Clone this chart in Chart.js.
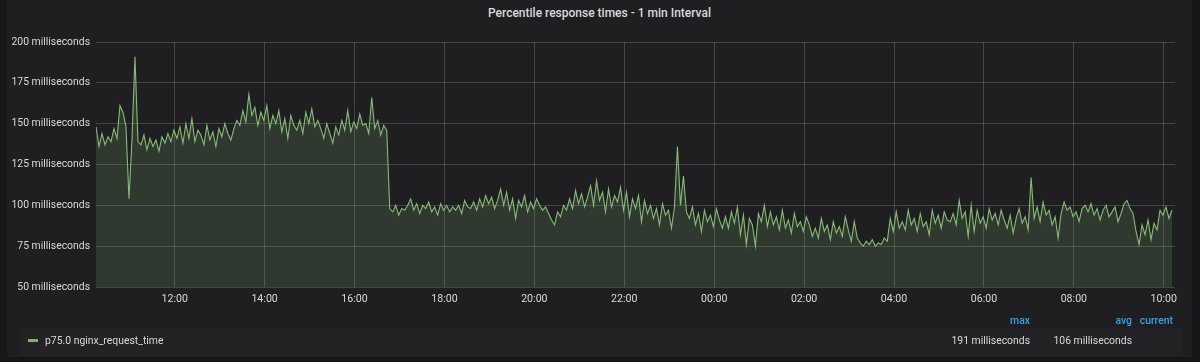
<!DOCTYPE html>
<html>
<head>
<meta charset="utf-8">
<script src="https://cdn.jsdelivr.net/npm/chart.js@4"></script>
<style>
  html, body { margin:0; padding:0; background:#161719; width:1200px; height:362px; overflow:hidden; font-family:Roboto, "Noto Sans", sans-serif; }
  #panel { position:absolute; left:7px; top:0; width:1185px; height:357px; background:#1f1f22; }
  #title { position:absolute; left:7px; width:1185px; top:6px; text-align:center; color:#d8d9da; font-size:12px; font-weight:500; }
  #c { position:absolute; left:0; top:0; }
  #legendbox { position:absolute; left:20px; top:328px; width:1162px; height:28px; background:#232326; }
  .lg { position:absolute; font-size:10.4px; color:#d8d9da; white-space:nowrap; }
  .hd { position:absolute; font-size:10.4px; color:#33a2e5; font-weight:500; white-space:nowrap; }
  #swatch { position:absolute; left:28px; top:339px; width:10px; height:3px; background:#7eb26d; }
</style>
</head>
<body>
<div id="panel"></div>
<div id="title">Percentile response times - 1 min Interval</div>
<div id="legendbox"></div>
<canvas id="c" width="1200" height="362"></canvas>
<div id="swatch"></div>
<div class="lg" id="seriesName" style="left:45px;top:334px;">p75.0 nginx_request_time</div>
<div class="hd" style="right:170px;top:314px;">max</div>
<div class="hd" style="right:68px;top:314px;">avg</div>
<div class="hd" style="right:27px;top:314px;">current</div>
<div class="lg" id="maxVal" style="right:170px;top:334px;"></div>
<div class="lg" id="avgVal" style="right:68px;top:334px;"></div>
<script>
// ---- data ----
const seriesName = "p75.0 nginx_request_time";
const startMinute = 615;      // 10:15 on day one, minutes since midnight
const stepMinutes = 4;        // sample spacing
const xMin = 615, xMax = 2055; // 10:15 -> 10:15 next day
const xTickValues = [720, 840, 960, 1080, 1200, 1320, 1440, 1560, 1680, 1800, 1920, 2040];
const yTickValues = [50, 75, 100, 125, 150, 175, 200];
const legendMax = "191 milliseconds";
const legendAvg = "106 milliseconds";
const p75 = [
148,136,144,137,142,139,147,141,161,157,148,104,140,191,139,
137,143,134,141,136,140,133,142,138,144,139,146,141,148,138,
150,141,153,139,146,143,137,149,140,145,136,147,142,150,144,
140,147,152,149,158,151,168,155,160,149,157,152,161,147,155,
150,158,145,153,141,155,149,146,152,144,157,150,159,148,152,
147,141,150,144,138,148,143,152,146,158,145,151,147,156,149,
150,144,166,147,152,143,149,146,98,96,100,94,98,97,100,
104,97,101,95,100,98,102,96,99,94,101,97,100,96,99,
97,100,95,103,99,98,102,97,104,99,106,101,105,98,103,
110,100,108,97,104,92,103,99,106,96,102,98,104,100,97,
99,95,91,88,96,93,100,97,104,98,109,101,107,99,105,
112,100,115,103,108,96,110,99,106,102,111,97,108,93,104,
98,106,90,103,95,100,92,98,88,101,94,97,86,99,136,
100,118,96,92,99,88,95,84,97,90,94,87,98,91,86,
93,86,96,89,99,82,94,76,92,88,75,95,90,100,87,
96,88,93,85,97,86,91,83,95,87,90,84,93,88,81,
86,80,92,84,88,79,90,83,87,81,93,85,78,90,80,
77,75,78,76,79,75,77,76,80,78,92,84,96,86,90,
85,97,88,92,84,95,87,90,82,97,89,94,86,96,91,
90,95,88,103,92,96,81,100,84,97,89,93,86,98,91,
95,88,97,91,86,94,83,92,98,89,93,85,117,92,99,
90,102,94,97,88,93,80,95,102,97,99,93,96,90,98,
100,96,101,94,98,91,97,100,93,96,99,90,95,101,103,
98,95,84,76,88,82,91,79,89,85,97,94,99,92,97
];

document.getElementById('maxVal').textContent = legendMax;
document.getElementById('avgVal').textContent = legendAvg;
document.getElementById('seriesName').textContent = seriesName;

const points = p75.map((v, i) => ({ x: startMinute + i * stepMinutes, y: v }));

function fmtTime(m) {
  const mm = ((m % 1440) + 1440) % 1440;
  const h = Math.floor(mm / 60), n = mm % 60;
  return String(h).padStart(2, '0') + ':' + String(n).padStart(2, '0');
}

const gridColor = 'rgba(255,255,255,0.17)';
new Chart(document.getElementById('c'), {
  type: 'line',
  data: {
    datasets: [{
      label: seriesName,
      data: points,
      borderColor: '#86bd74',
      backgroundColor: 'rgba(126,178,109,0.18)',
      borderWidth: 1.1,
      pointRadius: 0,
      tension: 0,
      fill: 'start'
    }]
  },
  options: {
    responsive: false,
    animation: false,
    devicePixelRatio: 1,
    layout: { padding: { left: 0, right: 25, top: 42, bottom: 0 } },
    plugins: { legend: { display: false }, title: { display: false }, tooltip: { enabled: false } },
    scales: {
      x: {
        type: 'linear',
        min: xMin, max: xMax,
        afterBuildTicks: (ax) => { ax.ticks = xTickValues.map(v => ({ value: v })); },
        afterFit: (ax) => { ax.height = 75; },
        grid: { color: gridColor, drawTicks: false },
        border: { display: false },
        ticks: { color: '#d8d9da', font: { family: 'Roboto', size: 10.6 }, padding: 6, maxRotation: 0, autoSkip: false,
          callback: (v) => fmtTime(v) }
      },
      y: {
        min: 50, max: 200,
        afterBuildTicks: (ax) => { ax.ticks = yTickValues.map(v => ({ value: v })); },
        afterFit: (ax) => { ax.width = 96; },
        grid: { color: gridColor, drawTicks: false },
        border: { display: false },
        ticks: { color: '#d8d9da', font: { family: 'Roboto', size: 10.4 }, padding: 6,
          callback: (v) => v + ' milliseconds' }
      }
    }
  }
});
</script>
</body>
</html>
